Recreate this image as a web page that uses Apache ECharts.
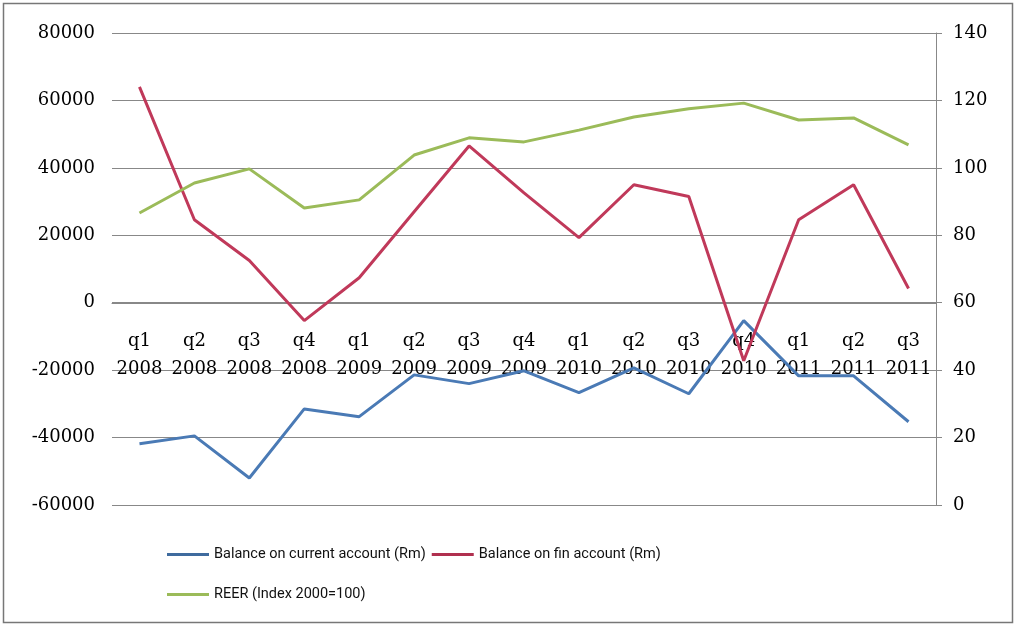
<!DOCTYPE html>
<html>
<head>
<meta charset="utf-8">
<script src="https://cdn.jsdelivr.net/npm/echarts@6/dist/echarts.min.js"></script>
<style>
  html, body { margin: 0; padding: 0; background: #fff; }
  #chart { width: 1017px; height: 626px; }
</style>
</head>
<body>
<div id="chart"></div>
<script>
// quarters
const categories = [
  'q1\n2008', 'q2\n2008', 'q3\n2008', 'q4\n2008',
  'q1\n2009', 'q2\n2009', 'q3\n2009', 'q4\n2009',
  'q1\n2010', 'q2\n2010', 'q3\n2010', 'q4\n2010',
  'q1\n2011', 'q2\n2011', 'q3\n2011'
]

// values (Rm / index)
const currentAccount = [-41800, -39500, -52000, -31500, -33800, -21400, -24000, -20200, -26700, -19300, -27000, -5300, -21700, -21700, -35300]
const finAccount = [64000, 24600, 12500, -5300, 7400, 27000, 46500, 32600, 19300, 35000, 31500, -17200, 24600, 35000, 4200]
const reer = [86.6, 95.5, 99.7, 88.1, 90.5, 103.8, 108.9, 107.7, 111.2, 115.1, 117.5, 119.2, 114.2, 114.8, 106.8]

const chart = echarts.init(document.getElementById('chart'))

const tickFont = { fontFamily: 'DejaVu Serif', fontSize: 18, color: '#000' }
const legendFont = { fontFamily: 'Roboto', fontSize: 14.5, color: '#111' }

// grid height 472 px over 140000 -> zero line sits 60000/140000 of the way up
const gridH = 472
const zeroOffset = -Math.round(gridH * 60000 / 140000)

chart.setOption({
  animation: false,
  backgroundColor: '#fff',
  graphic: [{
    type: 'rect',
    shape: { x: 3.5, y: 3.5, width: 1009, height: 619 },
    style: { fill: 'none', stroke: '#777', lineWidth: 1.5 },
    silent: true
  }],
  grid: { left: 112, right: 81, top: 33, bottom: 121 },
  legend: [{
    left: 162, top: 542,
    itemWidth: 42, itemHeight: 3, itemGap: 6,
    icon: 'rect',
    textStyle: legendFont,
    data: ['Balance on current account (Rm)', 'Balance on fin account (Rm)']
  }, {
    left: 162, top: 582,
    itemWidth: 42, itemHeight: 3,
    icon: 'rect',
    textStyle: legendFont,
    data: ['REER (Index 2000=100)']
  }],
  xAxis: {
    type: 'category',
    data: categories,
    boundaryGap: true,
    offset: zeroOffset,
    axisLine: { onZero: false, lineStyle: { color: '#888' } },
    axisTick: { show: false },
    axisLabel: { ...tickFont, margin: 24, lineHeight: 28, interval: 0 }
  },
  yAxis: [{
    type: 'value',
    min: -60000, max: 80000, interval: 20000,
    axisLine: { show: false },
    axisTick: { show: false },
    axisLabel: { ...tickFont, margin: 17, formatter: v => String(v) },
    splitLine: { lineStyle: { color: '#888', width: 1 } }
  }, {
    type: 'value',
    position: 'right',
    min: 0, max: 140, interval: 20,
    axisLine: { show: true, lineStyle: { color: '#888' } },
    axisTick: { show: true, length: 6, lineStyle: { color: '#888' } },
    axisLabel: { ...tickFont, margin: 17 },
    splitLine: { show: false }
  }],
  series: [{
    name: 'Balance on current account (Rm)',
    type: 'line',
    data: currentAccount,
    showSymbol: false,
    lineStyle: { color: '#4a7ab5', width: 3 },
    itemStyle: { color: '#3f6b9e' }
  }, {
    name: 'Balance on fin account (Rm)',
    type: 'line',
    data: finAccount,
    showSymbol: false,
    lineStyle: { color: '#c0395a', width: 3 },
    itemStyle: { color: '#b0304f' }
  }, {
    name: 'REER (Index 2000=100)',
    type: 'line',
    yAxisIndex: 1,
    data: reer,
    showSymbol: false,
    lineStyle: { color: '#9bbb59', width: 3 },
    itemStyle: { color: '#9bbb59' }
  }]
})
</script>
</body>
</html>
